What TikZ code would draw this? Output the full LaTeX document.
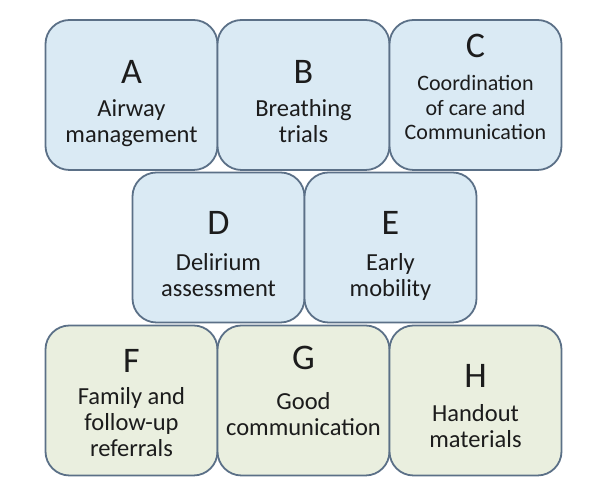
\documentclass[tikz,border=0pt]{standalone}
\usepackage{fontspec}
\setmainfont{Carlito}
\usetikzlibrary{positioning}
\definecolor{boxline}{HTML}{5B7087}
\definecolor{bluefill}{HTML}{DAEAF4}
\definecolor{greenfill}{HTML}{EAEFDF}
\definecolor{inktext}{HTML}{1C1C1C}
\tikzstyle{bluebox} = [rectangle, rounded corners=24pt, minimum width=172pt, minimum height=150pt, draw=boxline, line width=1.8pt, fill=bluefill]
\tikzstyle{greenbox} = [bluebox, fill=greenfill]
\tikzstyle{letter} = [anchor=base, inner sep=0pt, text=inktext, font=\fontsize{36}{40}\selectfont]
\tikzstyle{itemtext} = [anchor=base, inner sep=0pt, align=center, text=inktext, font=\fontsize{24.5}{26}\selectfont]

\begin{document}
\begin{tikzpicture}[x=1pt, y=1pt, node distance=172pt]
    \useasboundingbox (0,0) rectangle (616,502);

    % Caixas
    \node (boxA) [bluebox] at (131.5,407) {};
    \node (boxB) [bluebox, right of=boxA] {};
    \node (boxC) [bluebox, right of=boxB] {};

    \node (boxD) [bluebox] at (218.5,254.5) {};
    \node (boxE) [bluebox, right of=boxD] {};

    \node (boxF) [greenbox] at (131.5,101.5) {};
    \node (boxG) [greenbox, right of=boxF] {};
    \node (boxH) [greenbox, right of=boxG] {};

    % Letras
    \node (letA) [letter] at (boxA.center |- 0,418) {A};
    \node (letB) [letter] at (boxB.center |- 0,418) {B};
    \node (letC) [letter] at (boxC.center |- 0,444) {C};
    \node (letD) [letter] at (boxD.center |- 0,267) {D};
    \node (letE) [letter] at (boxE.center |- 0,267) {E};
    \node (letF) [letter] at (boxF.center |- 0,129) {F};
    \node (letG) [letter] at (boxG.center |- 0,132) {G};
    \node (letH) [letter] at (boxH.center |- 0,114) {H};

    % Textos (base = ultima linha)
    \node (txtA) [itemtext] at (boxA.center |- 0,359) {Airway\\management};
    \node (txtB) [itemtext] at (boxB.center |- 0,359) {Breathing\\trials};
    \node (txtC) [itemtext, font=\fontsize{22}{24.5}\selectfont] at (boxC.center |- 0,362) {Coordination\\of care and\\Communication};
    \node (txtD) [itemtext] at (boxD.center |- 0,205) {Delirium\\assessment};
    \node (txtE) [itemtext] at (boxE.center |- 0,205) {Early\\mobility};
    \node (txtF) [itemtext] at (boxF.center |- 0,45) {Family and\\follow-up\\referrals};
    \node (txtG) [itemtext] at (boxG.center |- 0,66) {Good\\communication};
    \node (txtH) [itemtext] at (boxH.center |- 0,54) {Handout\\materials};

\end{tikzpicture}
\end{document}
